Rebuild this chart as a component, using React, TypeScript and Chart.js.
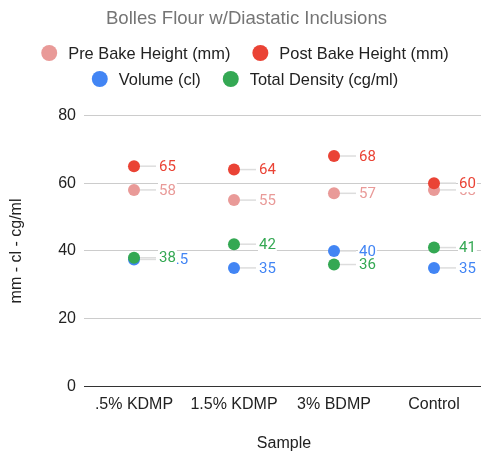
import React, { useEffect, useRef } from "react";
import { Chart, registerables } from "chart.js";

Chart.register(...registerables);

const categories = [".5% KDMP", "1.5% KDMP", "3% BDMP", "Control"];
const preBake = [58, 55, 57, 58];
const postBake = [65, 64, 68, 60];
const volume = [37.5, 35, 40, 35];
const density = [38, 42, 36, 41];
const yTicks = [0, 20, 40, 60, 80];

const seriesNames = ["Pre Bake Height (mm)", "Post Bake Height (mm)", "Volume (cl)", "Total Density (cg/ml)"];
const seriesColors = ["#e99a98", "#ea4335", "#4285f4", "#34a853"];

const AXIS_FONT = "'Liberation Sans', Arial, sans-serif";
const LABEL_FONT = "Roboto, 'Liberation Sans', sans-serif";

const customLegend = {
  id: "customLegend",
  afterDraw(chart: any) {
    const ctx = chart.ctx;
    const ds = chart.data.datasets;
    const rowsY = [53, 79];
    const r = 8;
    const gapText = 11;
    const gapItem = 22;
    ctx.save();
    ctx.font = `16.4px ${AXIS_FONT}`;
    ctx.textBaseline = "middle";
    const items = ds.map((d: any) => ({
      label: d.label,
      color: d.backgroundColor,
      w: 2 * r + gapText + ctx.measureText(d.label).width,
    }));
    const rows = [items.slice(0, 2), items.slice(2, 4)];
    const centerX = 245;
    rows.forEach((row: any[], ri: number) => {
      const total = row.reduce((s, it) => s + it.w, 0) + gapItem * (row.length - 1);
      let x = centerX - total / 2;
      const y = rowsY[ri];
      row.forEach((it) => {
        ctx.beginPath();
        ctx.fillStyle = it.color;
        ctx.arc(x + r, y, r, 0, Math.PI * 2);
        ctx.fill();
        ctx.fillStyle = "#222";
        ctx.textAlign = "left";
        ctx.fillText(it.label, x + 2 * r + gapText, y + 1);
        x += it.w + gapItem;
      });
    });
    ctx.restore();
  },
};

const dataLabels = {
  id: "dataLabels",
  afterDatasetsDraw(chart: any) {
    const ctx = chart.ctx;
    ctx.save();
    ctx.font = `15px ${LABEL_FONT}`;
    ctx.textBaseline = "middle";
    ctx.textAlign = "left";
    chart.data.datasets.forEach((d: any, di: number) => {
      const meta = chart.getDatasetMeta(di);
      meta.data.forEach((pt: any, i: number) => {
        const x = pt.x;
        const y = pt.y;
        const text = String(d.data[i]);
        ctx.strokeStyle = "#dddddd";
        ctx.lineWidth = 1.5;
        ctx.beginPath();
        ctx.moveTo(x + 6, y);
        ctx.lineTo(x + 22, y);
        ctx.stroke();
        const tx = x + 25;
        const w = ctx.measureText(text).width;
        ctx.fillStyle = "#ffffff";
        ctx.fillRect(tx - 1, y - 8, w + 2, 17);
        ctx.fillStyle = d.backgroundColor;
        ctx.fillText(text, tx, y + 1);
      });
    });
    ctx.restore();
  },
};

export default function App() {
  const ref = useRef<HTMLCanvasElement>(null);
  useEffect(() => {
    if (!ref.current) return;
    const allSeries = [preBake, postBake, volume, density];
    const chart = new Chart(ref.current, {
      type: "line",
      data: {
        labels: categories,
        datasets: allSeries.map((s, i) => ({
          label: seriesNames[i],
          data: s,
          order: allSeries.length - 1 - i,
          showLine: false,
          backgroundColor: seriesColors[i],
          borderColor: seriesColors[i],
          pointBackgroundColor: seriesColors[i],
          pointBorderWidth: 0,
          pointRadius: 6,
          pointHoverRadius: 6,
        })),
      },
      options: {
        responsive: false,
        animation: false,
        layout: { padding: { left: 0, right: -3, top: 0, bottom: 0 } },
        plugins: {
          legend: { display: false },
          tooltip: { enabled: false },
          title: {
            display: true,
            text: "Bolles Flour w/Diastatic Inclusions",
            color: "#757575",
            font: { family: AXIS_FONT, size: 18.6, weight: "normal" },
            padding: { top: 8, bottom: 85 },
          },
        },
        scales: {
          x: {
            type: "category",
            offset: true,
            grid: { display: false, drawTicks: false },
            border: { display: false },
            ticks: { color: "#222", font: { family: AXIS_FONT, size: 16 }, padding: 8, maxRotation: 0 },
            title: {
              display: true,
              text: "Sample",
              color: "#222",
              font: { family: AXIS_FONT, size: 16 },
              padding: { top: 12, bottom: 2 },
            },
          },
          y: {
            min: 0,
            max: 80,
            afterBuildTicks(scale: any) {
              scale.ticks = yTicks.map((v) => ({ value: v }));
            },
            grid: {
              drawTicks: false,
              color: (c: any) => (c.tick && c.tick.value === 0 ? "#333333" : "#cccccc"),
              lineWidth: 1,
            },
            border: { display: false },
            ticks: { color: "#222", font: { family: AXIS_FONT, size: 16 }, padding: 8 },
            title: {
              display: true,
              text: "mm - cl - cg/ml",
              color: "#222",
              font: { family: AXIS_FONT, size: 16 },
              padding: { top: 7, bottom: 24 },
            },
          },
        },
      },
      plugins: [dataLabels, customLegend],
    });
    return () => chart.destroy();
  }, []);
  return (
    <div style={{ position: "fixed", left: 0, top: 0, width: 481, height: 455, overflow: "hidden", background: "#fff" }}>
      <canvas ref={ref} width={490} height={455} style={{ display: "block" }} />
    </div>
  );
}
